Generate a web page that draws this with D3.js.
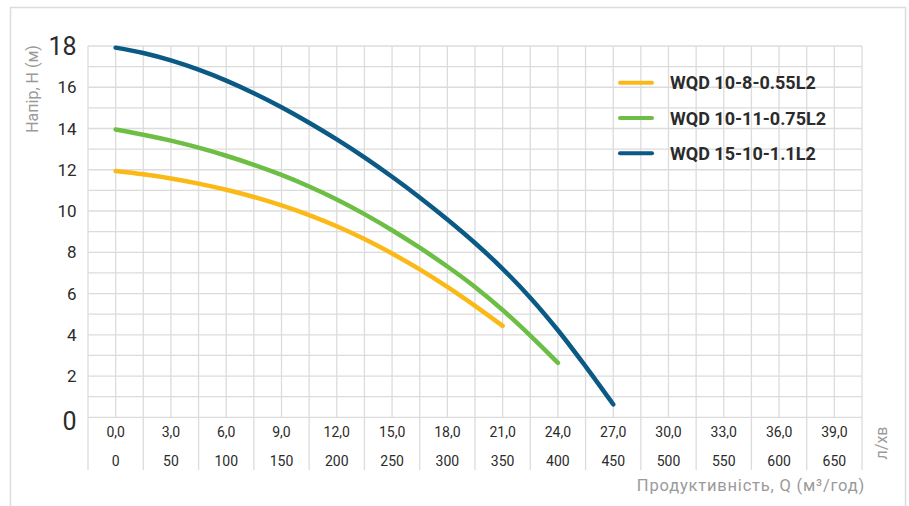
<!DOCTYPE html>
<html>
<head>
<meta charset="utf-8">
<script src="https://cdn.jsdelivr.net/npm/d3@7"></script>
<style>
  body { margin: 0; background: #fff; }
  svg { display: block; font-family: Roboto, "Noto Sans", sans-serif; }
</style>
</head>
<body>
<script>
let w = 909
let h = 506

// flow Q in m3/h, head H in m
let flowOrange = [0, 1.5, 3, 4.5, 6, 7.5, 9, 10.5, 12, 13.5, 15, 16.5, 18, 19.5, 21]
let headOrange = [11.94, 11.78, 11.58, 11.33, 11.03, 10.68, 10.27, 9.80, 9.26, 8.64, 7.94, 7.17, 6.32, 5.40, 4.43]

let flowGreen = [0, 1.5, 3, 4.5, 6, 7.5, 9, 10.5, 12, 13.5, 15, 16.5, 18, 19.5, 21, 22.5, 24]
let headGreen = [13.95, 13.70, 13.41, 13.07, 12.68, 12.24, 11.75, 11.19, 10.56, 9.85, 9.07, 8.22, 7.31, 6.32, 5.20, 3.96, 2.64]

let flowBlue = [0, 1.5, 3, 4.5, 6, 7.5, 9, 10.5, 12, 13.5, 15, 16.5, 18, 19.5, 21, 22.5, 24, 25.5, 27]
let headBlue = [17.92, 17.66, 17.30, 16.85, 16.32, 15.71, 15.03, 14.28, 13.47, 12.60, 11.66, 10.66, 9.59, 8.45, 7.20, 5.80, 4.22, 2.47, 0.63]

let seriesNames = ["WQD 10-8-0.55L2", "WQD 10-11-0.75L2", "WQD 15-10-1.1L2"]
let seriesColors = ["#fbb918", "#6dbe45", "#0b5a86"]

let qTicks = [0, 3, 6, 9, 12, 15, 18, 21, 24, 27, 30, 33, 36, 39]
let qLabels = ["0,0", "3,0", "6,0", "9,0", "12,0", "15,0", "18,0", "21,0", "24,0", "27,0", "30,0", "33,0", "36,0", "39,0"]
let lpmLabels = ["0", "50", "100", "150", "200", "250", "300", "350", "400", "450", "500", "550", "600", "650"]
let hTicks = [0, 2, 4, 6, 8, 10, 12, 14, 16, 18]

let xScale = d3.scaleLinear().domain([-1.5, 40.5]).range([88, 862])
let yScale = d3.scaleLinear().domain([0, 18]).range([417.3, 46])

let svg = d3.select("body").append("svg")
  .attr("width", w)
  .attr("height", h)

// outer frame
svg.append("rect")
  .attr("x", 10.5).attr("y", 7.5)
  .attr("width", 895).attr("height", 520)
  .attr("fill", "none")
  .attr("stroke", "#dcdcdc")
  .attr("stroke-width", 1.5)

let grid = svg.append("g").attr("stroke", "#dcdcdc").attr("stroke-width", 1.3)

grid.selectAll(".vgrid")
  .data(d3.range(-1.5, 40.6, 1.5))
  .enter().append("line")
  .attr("x1", d => xScale(d)).attr("x2", d => xScale(d))
  .attr("y1", yScale(18)).attr("y2", yScale(0))

grid.selectAll(".hgrid")
  .data(d3.range(0, 19, 1))
  .enter().append("line")
  .attr("x1", xScale(-1.5)).attr("x2", xScale(40.5))
  .attr("y1", d => yScale(d)).attr("y2", d => yScale(d))

// table columns below the plot
grid.selectAll(".tcol")
  .data(d3.range(-1.5, 40.6, 3))
  .enter().append("line")
  .attr("x1", d => xScale(d)).attr("x2", d => xScale(d))
  .attr("y1", yScale(0)).attr("y2", 470)

// y tick labels
svg.append("g").selectAll("text")
  .data(hTicks)
  .enter().append("text")
  .attr("x", 76.5)
  .attr("y", d => yScale(d) + (d == 18 ? 9 : d == 0 ? 12.5 : 6))
  .attr("text-anchor", "end")
  .attr("font-size", d => (d == 18 || d == 0) ? 25 : 17)
  .attr("fill", "#2b2b2b")
  .text(d => d)

// x table labels
let tbl = svg.append("g").attr("font-size", 14).attr("fill", "#2b2b2b").attr("text-anchor", "middle")
tbl.selectAll(".q")
  .data(qTicks)
  .enter().append("text")
  .attr("x", d => xScale(d))
  .attr("y", 436.7)
  .text((d, i) => qLabels[i])
tbl.selectAll(".l")
  .data(qTicks)
  .enter().append("text")
  .attr("x", d => xScale(d))
  .attr("y", 466)
  .text((d, i) => lpmLabels[i])

// axis titles
svg.append("text")
  .attr("transform", "translate(37.5,89) rotate(-90)")
  .attr("text-anchor", "middle")
  .attr("font-size", 16)
  .attr("fill", "#9a9a9a")
  .text("Напір, H (м)")

svg.append("text")
  .attr("x", 865).attr("y", 491)
  .attr("text-anchor", "end")
  .attr("font-size", 16.5)
  .attr("letter-spacing", 0.8)
  .attr("fill", "#9a9a9a")
  .text("Продуктивність, Q (м³/год)")

svg.append("text")
  .attr("transform", "translate(886.5,443) rotate(-90)")
  .attr("text-anchor", "middle")
  .attr("font-size", 16)
  .attr("fill", "#9a9a9a")
  .text("л/хв")

// curves
let line = d3.line()
  .x(d => xScale(d[0]))
  .y(d => yScale(d[1]))
  .curve(d3.curveCatmullRom)

let curves = [
  d3.zip(flowOrange, headOrange),
  d3.zip(flowGreen, headGreen),
  d3.zip(flowBlue, headBlue)
]

svg.append("g").selectAll("path")
  .data(curves)
  .enter().append("path")
  .attr("d", line)
  .attr("fill", "none")
  .attr("stroke", (d, i) => seriesColors[i])
  .attr("stroke-width", 4.5)
  .attr("stroke-linecap", "round")

// legend
let legend = svg.append("g")
let legendY = [82.7, 118, 153.3]
seriesNames.forEach((name, i) => {
  legend.append("line")
    .attr("x1", 620).attr("x2", 652)
    .attr("y1", legendY[i]).attr("y2", legendY[i])
    .attr("stroke", seriesColors[i])
    .attr("stroke-width", 4)
    .attr("stroke-linecap", "round")
  legend.append("text")
    .attr("x", 670).attr("y", legendY[i] + 6.5)
    .attr("font-size", 18)
    .attr("font-weight", "bold")
    .attr("fill", "#2b2b2b")
    .text(name)
})
</script>
</body>
</html>
